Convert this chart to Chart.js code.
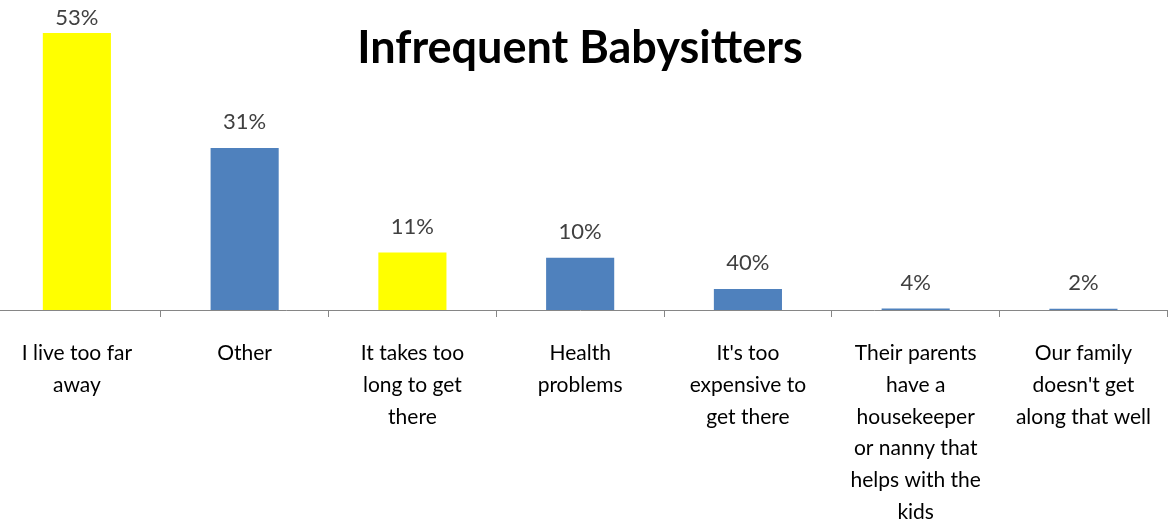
<!DOCTYPE html>
<html>
<head>
<meta charset="utf-8">
<script src="https://cdn.jsdelivr.net/npm/chart.js@4"></script>
<style>
  html, body { margin: 0; padding: 0; background: #fff; overflow: hidden; }
  #wrap { position: absolute; left: -7px; top: 0; width: 1178px; height: 526px; }
</style>
</head>
<body>
<div id="wrap"><canvas id="c"></canvas></div>
<script>
const chartTitle = "Infrequent Babysitters";
const categories = [
  ["I live too far", "away"],
  ["Other"],
  ["It takes too", "long to get", "there"],
  ["Health", "problems"],
  ["It's too", "expensive to", "get there"],
  ["Their parents", "have a", "housekeeper", "or nanny that", "helps with the", "kids"],
  ["Our family", "doesn't get", "along that well"]
];
const values = [53, 31, 11, 10, 4, 0.3, 0.25];
const valueLabels = ["53%", "31%", "11%", "10%", "40%", "4%", "2%"];
const barColors = ["#FFFF00", "#4F81BD", "#FFFF00", "#4F81BD", "#4F81BD", "#4F81BD", "#4F81BD"];

const FONT = "Lato, 'Open Sans', sans-serif";

const labelPlugin = {
  id: 'labelPlugin',
  afterDatasetsDraw(chart) {
    const ctx = chart.ctx;
    const meta = chart.getDatasetMeta(0);
    ctx.save();
    ctx.font = "22px " + FONT;
    ctx.fillStyle = "#404040";
    ctx.textAlign = "center";
    ctx.textBaseline = "middle";
    meta.data.forEach((bar, i) => {
      ctx.fillText(valueLabels[i], bar.x, Math.max(18, bar.y - 26));
    });
    ctx.restore();
  }
};

const titlePlugin = {
  id: 'titlePlugin',
  afterDraw(chart) {
    const ctx = chart.ctx;
    ctx.save();
    ctx.font = "bold 45px " + FONT;
    ctx.fillStyle = "#000";
    ctx.textAlign = "center";
    ctx.textBaseline = "middle";
    ctx.fillText(chartTitle, 587, 48);
    ctx.restore();
  }
};

new Chart(document.getElementById('c'), {
  type: 'bar',
  data: {
    labels: categories,
    datasets: [{
      data: values,
      backgroundColor: barColors,
      borderWidth: 0,
      barPercentage: 0.406,
      categoryPercentage: 1.0
    }]
  },
  options: {
    responsive: true,
    maintainAspectRatio: false,
    animation: false,
    layout: { padding: 0 },
    plugins: { legend: { display: false }, tooltip: { enabled: false }, title: { display: false } },
    scales: {
      x: {
        offset: true,
        grid: { offset: true, drawOnChartArea: false, drawTicks: true, tickLength: 7, color: "#868686" },
        border: { display: true, color: "#868686", width: 1 },
        ticks: {
          color: "#000",
          font: { family: FONT, size: 21, lineHeight: 1.52 },
          padding: 20,
          maxRotation: 0,
          autoSkip: false
        },
        afterFit(scale) { scale.height = 216; }
      },
      y: {
        display: false,
        min: 0,
        max: 59.3
      }
    }
  },
  plugins: [labelPlugin, titlePlugin]
});
</script>
</body>
</html>
